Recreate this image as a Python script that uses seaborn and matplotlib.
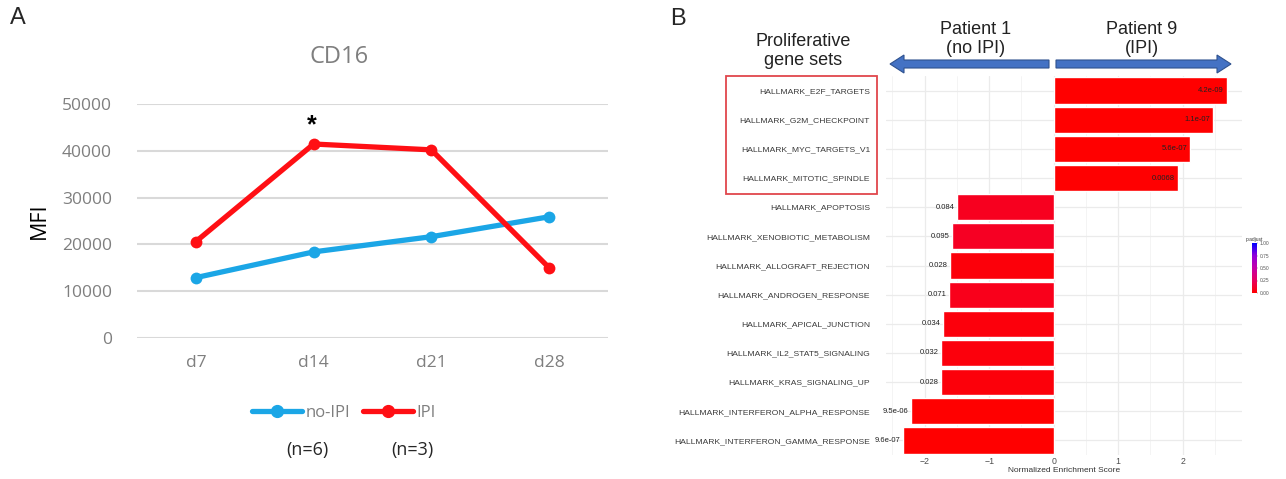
import numpy as np
import pandas as pd
import matplotlib
matplotlib.use("Agg")
import matplotlib.pyplot as plt
import seaborn as sns
from matplotlib.patches import FancyArrow, Rectangle
from matplotlib.colors import LinearSegmentedColormap, Normalize
from matplotlib.lines import Line2D
import matplotlib as mpl

# ---------------- data ----------------
days = ["d7", "d14", "d21", "d28"]
no_ipi = [12900, 18400, 21650, 25900]
ipi = [20600, 41450, 40200, 15000]
groups = ["no-IPI", "IPI"]
yticks_a = [0, 10000, 20000, 30000, 40000, 50000]

gene_sets = ["HALLMARK_E2F_TARGETS", "HALLMARK_G2M_CHECKPOINT", "HALLMARK_MYC_TARGETS_V1",
             "HALLMARK_MITOTIC_SPINDLE", "HALLMARK_APOPTOSIS", "HALLMARK_XENOBIOTIC_METABOLISM",
             "HALLMARK_ALLOGRAFT_REJECTION", "HALLMARK_ANDROGEN_RESPONSE", "HALLMARK_APICAL_JUNCTION",
             "HALLMARK_IL2_STAT5_SIGNALING", "HALLMARK_KRAS_SIGNALING_UP",
             "HALLMARK_INTERFERON_ALPHA_RESPONSE", "HALLMARK_INTERFERON_GAMMA_RESPONSE"]
nes = [2.68, 2.47, 2.12, 1.92, -1.50, -1.57, -1.61, -1.62, -1.71, -1.74, -1.74, -2.22, -2.34]
p_adjust = [4.2e-09, 1.1e-07, 5.6e-07, 0.0068, 0.084, 0.095, 0.028, 0.071, 0.034, 0.032, 0.028,
            9.5e-06, 9.6e-07]
p_labels = ["4.2e-09", "1.1e-07", "5.6e-07", "0.0068", "0.084", "0.095", "0.028", "0.071",
            "0.034", "0.032", "0.028", "9.5e-06", "9.6e-07"]
xticks_b = [-2, -1, 0, 1, 2]
cbar_ticks = [0.0, 0.25, 0.5, 0.75, 1.0]

W, H = 1286, 479
fig = plt.figure(figsize=(W / 100, H / 100), dpi=100)
sns.set_style("white")
plt.rcParams['font.family'] = ['Liberation Sans', 'DejaVu Sans']

def fx(px):
    return px / W

def fy(py):
    return 1 - py / H

# ---------------- Panel A ----------------
axA = fig.add_axes([fx(137), fy(338), (608 - 137) / W, (338 - 104) / H])
dfA = pd.DataFrame({
    "day": days * 2,
    "MFI": no_ipi + ipi,
    "group": [groups[0]] * 4 + [groups[1]] * 4,
})
pal = {"no-IPI": "#1BA6E6", "IPI": "#FF0F14"}
sns.lineplot(data=dfA, x="day", y="MFI", hue="group", palette=pal, marker="o",
             markersize=8.5, markeredgewidth=0, linewidth=3.8, ax=axA, legend=False,
             clip_on=False, zorder=3)
axA.set_xlim(-0.5, 3.5)
axA.set_ylim(0, 50000)
axA.set_yticks(yticks_a)
axA.set_yticklabels([str(v) for v in yticks_a], fontfamily="Open Sans", fontsize=12.5,
                    color="#7F7F7F")
axA.set_xticks(range(len(days)))
axA.set_xticklabels(days, fontfamily="Open Sans", fontsize=12.5, color="#7F7F7F")
axA.tick_params(axis="both", length=0)
axA.tick_params(axis="y", pad=18)
axA.tick_params(axis="x", pad=12)
axA.grid(axis="y", color="#D9D9D9", linewidth=1.5)
axA.set_axisbelow(True)
for s in axA.spines.values():
    s.set_visible(False)
axA.set_xlabel("")
axA.set_ylabel("MFI", fontfamily="Open Sans", fontsize=15.5, color="black", labelpad=9)

handles = [Line2D([0], [0], color=pal[g], lw=3.8, marker="o", markersize=8.5) for g in groups]
leg = fig.legend(handles, groups, loc="center", bbox_to_anchor=(fx(344), fy(413)), ncol=2,
                 frameon=False, handlelength=3.0, handletextpad=0.2, columnspacing=0.8,
                 prop={"family": "Open Sans", "size": 12})
for t in leg.get_texts():
    t.set_color("#7F7F7F")

fig.text(fx(339), fy(57), "CD16", fontfamily="Open Sans", fontsize=17, color="#7F7F7F",
         ha="center", va="center")
fig.text(fx(312), fy(125), "*", fontsize=18, color="black", ha="center", va="center",
         fontweight="bold")
fig.text(fx(307), fy(450), "(n=6)", fontfamily="Open Sans", fontsize=13, ha="center", va="center")
fig.text(fx(412), fy(450), "(n=3)", fontfamily="Open Sans", fontsize=13, ha="center", va="center")
fig.text(fx(18), fy(18), "A", fontsize=17, ha="center", va="center")

# ---------------- Panel B ----------------
cmap = LinearSegmentedColormap.from_list(
    "padj", [(0.0, "#FF0000"), (0.25, "#E8005E"), (0.5, "#C400A8"), (0.75, "#8F00DA"),
             (1.0, "#0000FF")])
norm = Normalize(0, 1)
bar_colors = {g: cmap(norm(p)) for g, p in zip(gene_sets, p_adjust)}

axB = fig.add_axes([fx(886), fy(455), (1242 - 886) / W, (455 - 76) / H])
dfB = pd.DataFrame({"set": gene_sets, "NES": nes})
sns.barplot(data=dfB, x="NES", y="set", hue="set", palette=bar_colors, order=gene_sets,
            hue_order=gene_sets, orient="h", width=0.9, legend=False, ax=axB, zorder=2,
            saturation=1)
axB.set_xlim(-2.6, 2.92)
axB.set_xticks(xticks_b)
axB.set_xticklabels([str(v).replace("-", "\u2212") for v in xticks_b], fontsize=6.3,
                    color="#4D4D4D")
axB.set_xticks(np.arange(-2.5, 3.0, 1.0), minor=True)
axB.tick_params(axis="both", which="both", length=0)
axB.tick_params(axis="y", pad=11.5, labelsize=6.1, labelcolor="#3A3A3A")
axB.tick_params(axis="x", pad=1.5)
axB.grid(which="major", color="#EBEBEB", linewidth=0.9)
axB.grid(which="minor", axis="x", color="#F3F3F3", linewidth=0.6)
axB.set_axisbelow(True)
for s in axB.spines.values():
    s.set_visible(False)
axB.set_ylabel("")
axB.set_xlabel("Normalized Enrichment Score", fontsize=6, color="#333333", labelpad=1)
for i, (v, lab) in enumerate(zip(nes, p_labels)):
    axB.text(v - 0.04, i, lab, ha="right", va="center", fontsize=5.5, color="#222222",
             zorder=4)

# colorbar legend
cax = fig.add_axes([fx(1252), fy(293), 5 / W, 50 / H])
cb = mpl.colorbar.ColorbarBase(cax, cmap=cmap, norm=norm, orientation="vertical")
cb.set_ticks(cbar_ticks)
cb.set_ticklabels(["%.2f" % t for t in cbar_ticks])
cb.outline.set_visible(False)
cax.tick_params(labelsize=3.5, length=1, width=0.3, colors="#555555", pad=1)
cax.set_title("p.adjust", fontsize=3.5, color="#333333", pad=1.5)

# ---------------- overlay annotations ----------------
ov = fig.add_axes([0, 0, 1, 1])
ov.set_xlim(0, W)
ov.set_ylim(H, 0)
ov.axis("off")
arrow_kw = dict(width=8, head_width=18, head_length=14, length_includes_head=True,
                facecolor="#4472C4", edgecolor="#2F528F", linewidth=0.8)
ov.add_patch(FancyArrow(1049, 64, 890 - 1049, 0, **arrow_kw))
ov.add_patch(FancyArrow(1056, 64, 1231 - 1056, 0, **arrow_kw))
ov.add_patch(Rectangle((726, 76), 877 - 726, 194 - 76, fill=False, edgecolor="#E0474C",
                       linewidth=1.3))
ov.text(976, 39, "Patient 1\n(no IPI)", fontsize=13, ha="center", va="center",
        color="#222222", linespacing=1.1)
ov.text(1142, 39, "Patient 9\n(IPI)", fontsize=13, ha="center", va="center",
        color="#222222", linespacing=1.1)
ov.text(803, 51, "Proliferative\ngene sets", fontsize=13, ha="center", va="center",
        color="#222222", linespacing=1.2)
ov.text(678, 19, "B", fontsize=17, ha="center", va="center")

fig.savefig("out.png", dpi=100, facecolor="white")
